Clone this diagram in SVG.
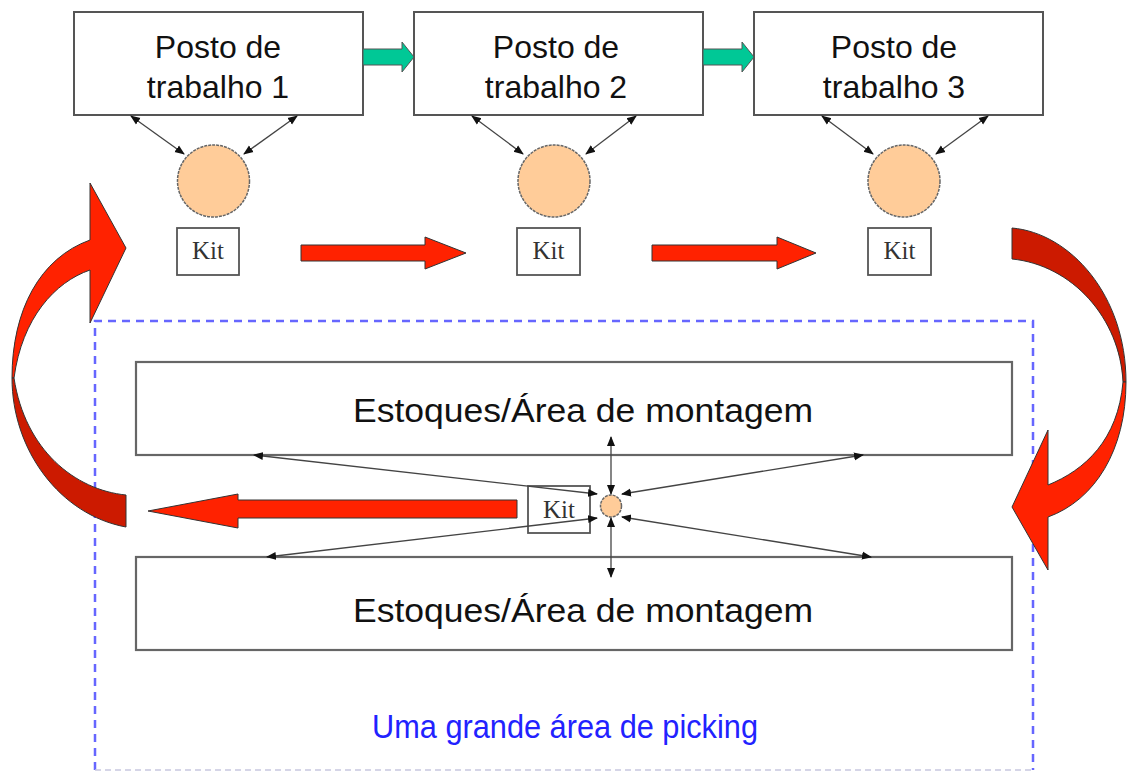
<svg xmlns="http://www.w3.org/2000/svg" width="1128" height="772" viewBox="0 0 1128 772">
<defs>
<marker id="ah" viewBox="0 0 10 10" refX="9" refY="5" markerWidth="10" markerHeight="10" markerUnits="userSpaceOnUse" orient="auto-start-reverse">
<path d="M0,1 L10,5 L0,9 Z" fill="#111"/>
</marker>
<style>
.box{fill:#fff;stroke:#555;stroke-width:2}
.big{fill:#fff;stroke:#666;stroke-width:2.2}
.t{font-family:"Liberation Sans",Arial,sans-serif;fill:#111;text-anchor:middle}
.kit{fill:#fff;stroke:#555;stroke-width:1.8}
.kt{font-family:"Liberation Serif","Times New Roman",serif;font-size:25px;fill:#333;text-anchor:middle}
.circ{fill:#FFCC99;stroke:#666;stroke-width:1.5;stroke-dasharray:3 1}
.con{stroke:#444;stroke-width:1.3;fill:none;marker-start:url(#ah);marker-end:url(#ah)}
.green{fill:#00C896;stroke:#555;stroke-width:1}
.red{fill:#FF2200;stroke:#333;stroke-width:1}
.dred{fill:#CC1A00;stroke:#333;stroke-width:1}
</style>
</defs>
<rect width="1128" height="772" fill="#fff"/>

<g id="picking-area">
<path d="M95,770 L95,321 L1033,321 L1033,770" fill="none" stroke="#6666FF" stroke-width="2.5" stroke-dasharray="8 6"/>
<line x1="95" y1="770" x2="1033" y2="770" stroke="#c8c8e0" stroke-width="1.5" stroke-dasharray="6 4"/>
<text x="565" y="738" font-family="Liberation Sans, Arial, sans-serif" font-size="33" fill="#2222FF" text-anchor="middle" textLength="386" lengthAdjust="spacingAndGlyphs">Uma grande área de picking</text>
</g>

<g id="posto1"><rect class="box" x="74" y="12" width="289" height="103"/><text class="t" font-size="32" x="218" y="58">Posto de</text><text class="t" font-size="32" x="218" y="98">trabalho 1</text></g>
<g id="posto2"><rect class="box" x="414" y="12" width="289" height="103"/><text class="t" font-size="32" x="556" y="58">Posto de</text><text class="t" font-size="32" x="556" y="98">trabalho 2</text></g>
<g id="posto3"><rect class="box" x="754" y="12" width="289" height="103"/><text class="t" font-size="32" x="894" y="58">Posto de</text><text class="t" font-size="32" x="894" y="98">trabalho 3</text></g>

<g id="circ1"><circle class="circ" cx="213.5" cy="181" r="36"/></g>
<g id="circ2"><circle class="circ" cx="554" cy="181" r="36"/></g>
<g id="circ3"><circle class="circ" cx="904" cy="181" r="36"/></g>

<g id="kit1"><rect class="kit" x="177" y="228" width="62" height="47"/><text class="kt" x="208" y="259">Kit</text></g>
<g id="kit2"><rect class="kit" x="517" y="228" width="63" height="47"/><text class="kt" x="548.5" y="259">Kit</text></g>
<g id="kit3"><rect class="kit" x="868" y="228" width="63" height="47"/><text class="kt" x="899.5" y="259">Kit</text></g>

<g id="estoque-top"><rect class="big" x="136" y="362" width="876" height="93"/><text class="t" font-size="34" x="583" y="422" textLength="460" lengthAdjust="spacingAndGlyphs">Estoques/Área de montagem</text></g>
<g id="estoque-bottom"><rect class="big" x="136" y="557" width="876" height="93"/><text class="t" font-size="34" x="583" y="622" textLength="460" lengthAdjust="spacingAndGlyphs">Estoques/Área de montagem</text></g>

<g id="kit-center"><rect class="kit" x="528" y="486" width="62" height="47"/><text class="kt" x="559" y="518">Kit</text></g>
<g id="circ-center"><ellipse class="circ" cx="611" cy="506" rx="10.5" ry="11"/></g>

<g id="connectors">
<path class="green" d="M363,49 L402,49 L402,42 L414,57 L402,72 L402,65 L363,65 Z"/>
<path class="green" d="M703,49 L742,49 L742,42 L754,57 L742,72 L742,65 L703,65 Z"/>

<line class="con" x1="131" y1="116" x2="184" y2="154"/>
<line class="con" x1="297" y1="116" x2="244" y2="154"/>
<line class="con" x1="472" y1="116" x2="523" y2="154"/>
<line class="con" x1="636" y1="116" x2="586" y2="154"/>
<line class="con" x1="822" y1="116" x2="873" y2="154"/>
<line class="con" x1="988" y1="116" x2="936" y2="154"/>

<path class="red" d="M301,245 L425,245 L425,237 L466,253 L425,269 L425,261 L301,261 Z"/>
<path class="red" d="M652,245 L777,245 L777,237 L816,253 L777,269 L777,261 L652,261 Z"/>

<path class="red" d="M517,500 L238,500 L238,494 L148,511 L238,528 L238,518 L517,518 Z"/>

<path class="red" d="M12,378 C12,310 40,258 90,240 L90,183 L126,248 L90,323 L90,270 C55,282 22,318 14,378 Z"/>
<path class="dred" d="M12,378 C12,450 60,515 126,527 L126,495 C75,490 25,450 14,378 Z"/>

<path class="dred" d="M1012,228 C1070,233 1126,295 1126,382 L1123,382 C1120,318 1072,265 1012,259 Z"/>
<path class="red" d="M1126,382 C1126,450 1095,500 1048,517 L1048,570 L1012,507 L1048,430 L1048,485 C1085,470 1118,440 1123,382 Z"/>

<line class="con" x1="254" y1="455" x2="597" y2="494"/>
<line class="con" x1="267" y1="557" x2="597" y2="518"/>
<line class="con" x1="863" y1="455" x2="622" y2="494"/>
<line class="con" x1="871" y1="557" x2="622" y2="517"/>
<line class="con" x1="611" y1="494" x2="611" y2="437"/>
<line class="con" x1="611" y1="518" x2="611" y2="577"/>
</g>
</svg>
